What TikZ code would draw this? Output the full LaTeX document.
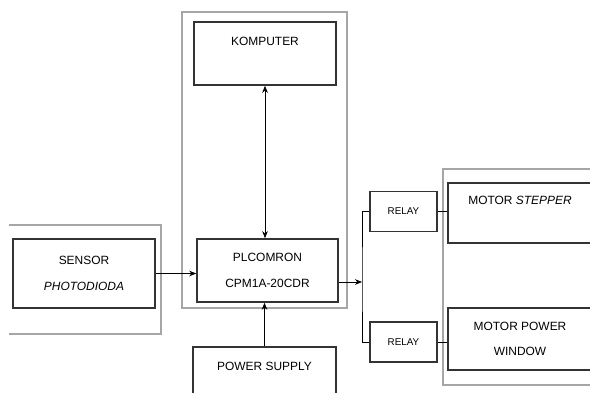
\documentclass[tikz,border=0pt]{standalone}
\usepackage{fontspec}
\setmainfont{Liberation Sans}
\usepackage{xcolor}
\usepackage{tikz}
\usetikzlibrary{positioning, arrows.meta}

\begin{document}
\begin{tikzpicture}[x=0.025cm, y=-0.025cm, >={Stealth[length=5pt, width=4pt]},
    block/.style={draw=black!80, line width=1.1pt, fill=white, align=center, inner sep=0pt,
                  font=\fontsize{8.5}{18}\selectfont},
    relaybox/.style={block, minimum width=1.675cm, minimum height=0.99cm, font=\fontsize{7}{9}\selectfont},
    frame/.style={draw=black!35, line width=0.8pt},
    conn/.style={line width=0.6pt}]
    \useasboundingbox (0,0) rectangle (590,393);

    % group frames
    \draw[frame] (9,225) -- (161,225) -- (161,334) -- (9,334);
    \draw[frame] (182,12) rectangle (347,308);
    \draw[frame] (600,169) -- (443,169) -- (443,385) -- (600,385);

    \node[block, minimum width=3.55cm,  minimum height=1.725cm] (sensor)  at (84,273.5)  {SENSOR\\\textit{PHOTODIODA}};
    \node[block, minimum width=3.55cm,  minimum height=1.575cm] (komp)    at (265,53.5)  {KOMPUTER\\~};
    \node[block, minimum width=3.525cm, minimum height=1.575cm] (plc)     at (267.5,270.5) {PLCOMRON\\CPM1A-20CDR};
    \node[block, minimum width=3.575cm, minimum height=1.575cm] (power)   at (264.5,378.5) {POWER SUPPLY\\~};
    \node[relaybox]                                            (relay1)  at (403.5,211.5) {RELAY};
    \node[relaybox]                                            (relay2)  at (403.5,342)   {RELAY};
    \node[block, minimum width=3.6cm,   minimum height=1.5cm]   (stepper) at (520,213)   {MOTOR \textit{STEPPER}\\~};
    \node[block, minimum width=3.6cm,   minimum height=1.55cm]  (window)  at (520,339)   {MOTOR POWER\\WINDOW};

    \coordinate (bus) at (362,282);

    \draw[conn, ->]  (sensor.east) -- (sensor.east -| plc.west);
    \draw[conn, <->] (komp.south) -- (komp.south |- plc.north);
    \draw[conn, ->]  (power.north) -- (power.north |- plc.south);
    \draw[conn, ->]  (plc.east |- bus) -- (bus);
    \draw[conn]      (relay1.west) -| (bus) |- (relay2.west);
    \draw[conn]      (relay1.east) -- (relay1.east -| stepper.west);
    \draw[conn]      (relay2.east) -- (relay2.east -| window.west);
\end{tikzpicture}
\end{document}
